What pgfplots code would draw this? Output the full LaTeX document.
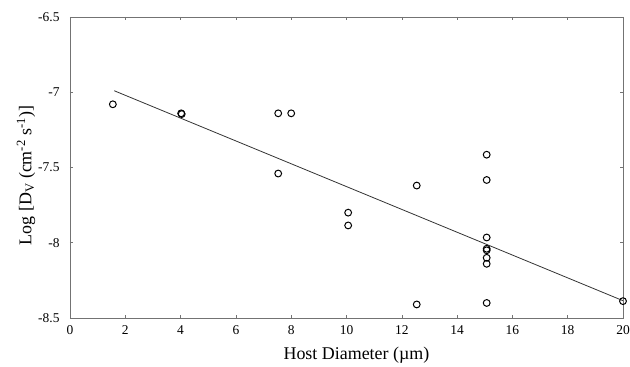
\documentclass[border=0pt]{standalone}
\usepackage{fontspec}
\setmainfont{Liberation Serif}
\usepackage{pgfplots}
\pgfplotsset{compat=1.18}
\begin{document}
\begin{tikzpicture}
\useasboundingbox (-70bp,-49bp) rectangle (560bp,318bp);
\begin{axis}[
  at={(0,0)}, anchor=south west,
  scale only axis,
  width=553bp, height=301bp,
  xmin=0, xmax=20, ymin=-8.5, ymax=-6.5,
  xtick={0,2,4,6,8,10,12,14,16,18,20},
  xticklabels={0,2,4,6,8,10,12,14,16,18,20},
  ytick={-8.5,-8,-7.5,-7,-6.5},
  yticklabels={-8.5,-8,-7.5,-7,-6.5},
  tick align=inside,
  major tick length=3bp,
  axis line style={draw=black!55, line width=0.8pt},
  tick style={draw=black!55, line width=0.6pt},
  every tick label/.append style={font=\fontsize{13.5}{16}\selectfont},
  xticklabel shift=4bp,
  yticklabel shift=7bp,
  xlabel={Host Diameter (µm)},
  ylabel={Log [D\textsubscript{V} (cm\textsuperscript{-2} s\textsuperscript{-1})]},
  label style={font=\fontsize{18}{22}\selectfont},
  xlabel style={at={(axis description cs:0.518,-0.138)}, anchor=base},
  ylabel style={at={(axis description cs:-0.0796,0.4734)}, anchor=center},
  clip=false,
]
\addplot[only marks, mark=o, mark size=3.4bp, mark options={line width=1pt, draw=black}] coordinates {
  (1.55,-7.08) (4.02,-7.14) (4.04,-7.145) (7.53,-7.14) (8.0,-7.14) (7.53,-7.54)
  (10.06,-7.80) (10.06,-7.885) (12.54,-7.62) (12.54,-8.41)
  (15.07,-7.415) (15.07,-7.583) (15.07,-7.965) (15.07,-8.04) (15.07,-8.05)
  (15.07,-8.10) (15.07,-8.14) (15.07,-8.40)
  (20.0,-8.388)
};
\addplot[black!80, line width=0.8pt] coordinates {(1.6,-6.99) (20.0,-8.385)};
\end{axis}
\end{tikzpicture}
\end{document}
